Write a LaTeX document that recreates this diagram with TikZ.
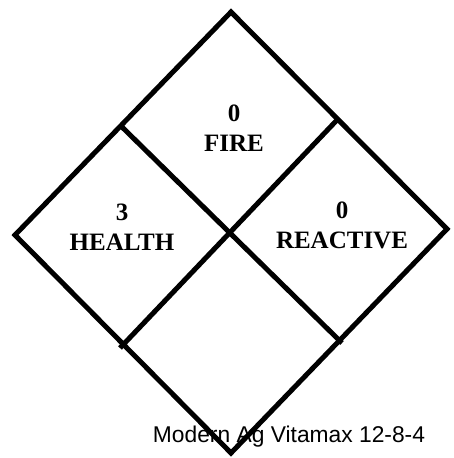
\documentclass[tikz,border=0pt]{standalone}
\usepackage{fontspec}
\setmainfont{Liberation Serif}
\newfontfamily\arialfont{Liberation Sans}
\begin{document}
\begin{tikzpicture}[x=1pt,y=-1pt,
  edge/.style={draw=black,line width=5pt,line join=miter},
  label/.style={align=center,font={\bfseries\fontsize{25}{30}\selectfont},inner sep=0pt},
  caption/.style={font={\arialfont\fontsize{22.8}{25}\selectfont},inner sep=0pt}]
\useasboundingbox (0,0) rectangle (453,458);
% vertices
\coordinate (T) at (231,12);
\coordinate (R) at (447,229);
\coordinate (B) at (231,453);
\coordinate (L) at (15,235);
% side points
\coordinate (TL) at (122,127);
\coordinate (RB) at (342,343);
\coordinate (TR) at (337,120);
\coordinate (LB) at (120,348);
\node[caption] (cap) at (289,437) {Modern Ag Vitamax 12-8-4};
\draw[edge] (T) -- (R) -- (B) -- (L) -- cycle;
\draw[edge] (TL) -- (RB);
\draw[edge] (TR) -- (LB);
\node[label] (fire) at (234,128) {0\\FIRE};
\node[label] (health) at (122,227) {3\\HEALTH};
\node[label] (reactive) at (342,225) {0\\REACTIVE};
\end{tikzpicture}
\end{document}
